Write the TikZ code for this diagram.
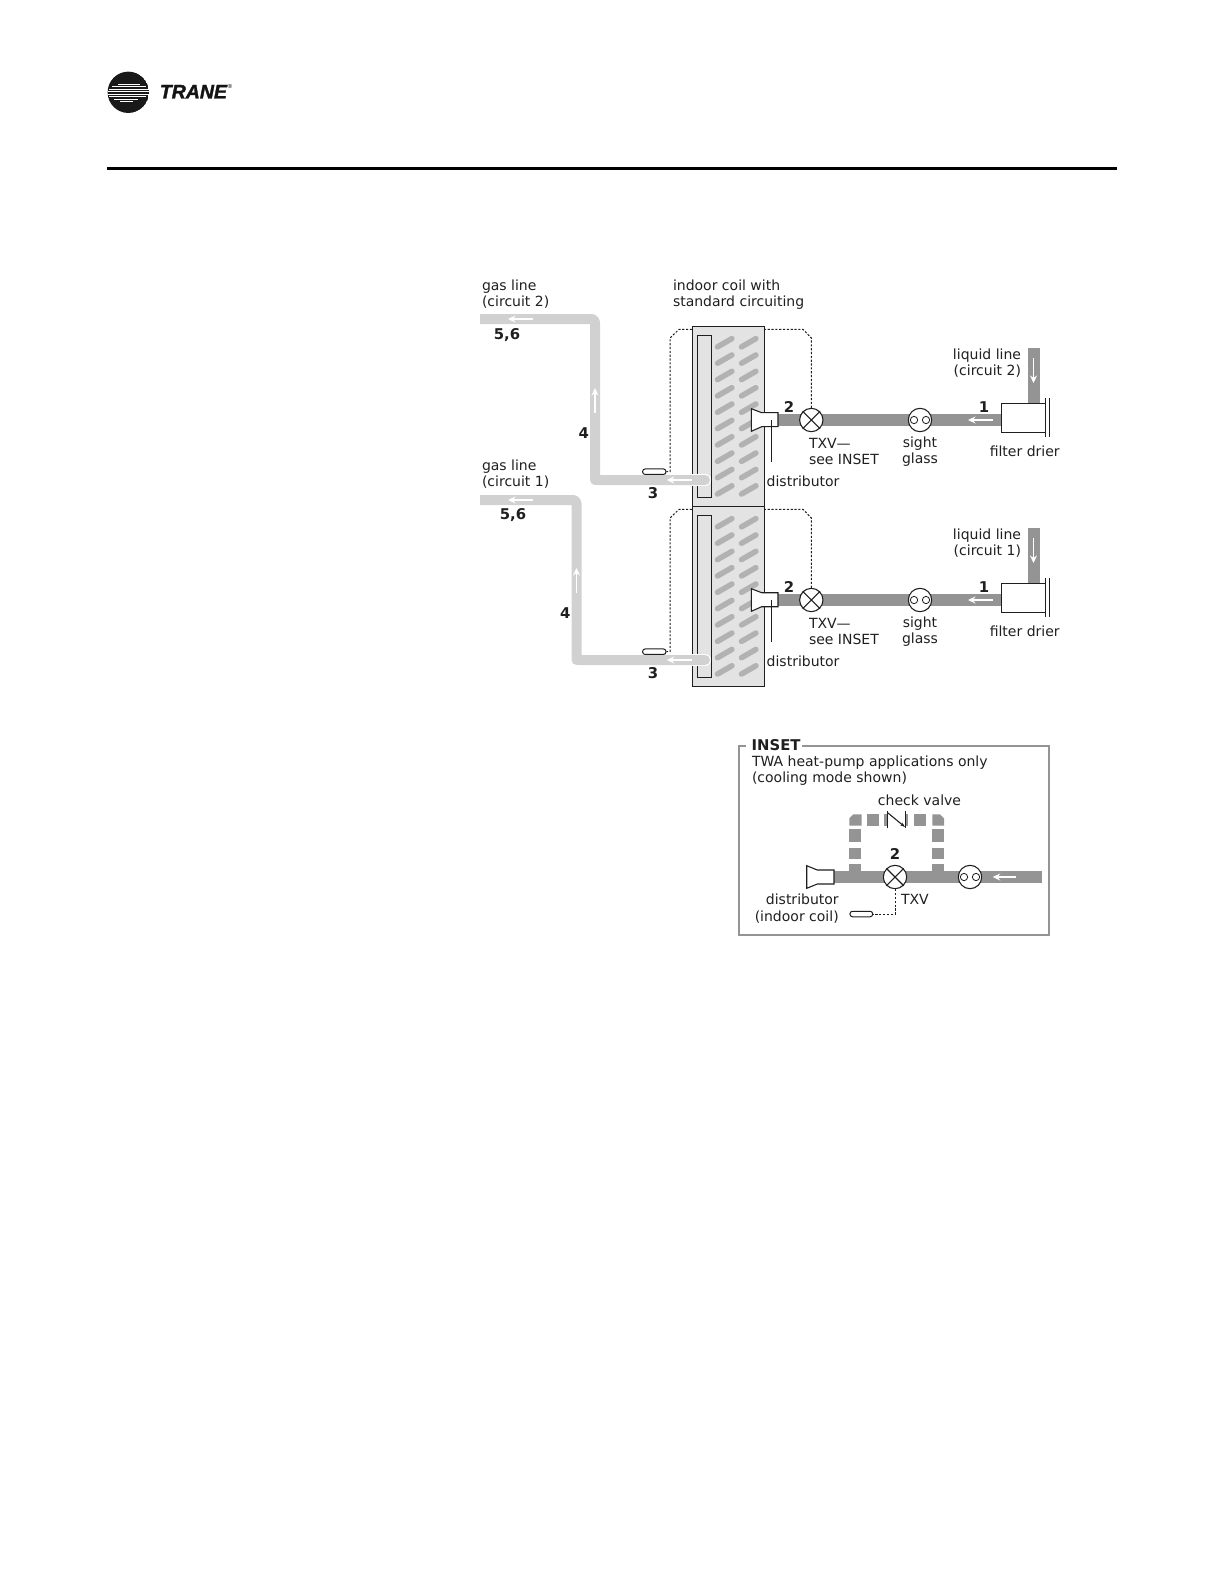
\documentclass[tikz,border=0pt]{standalone}
\usepackage{fontspec}
\setmainfont{DejaVu Sans}
\newfontfamily\logofont[BoldItalicFeatures={FakeBold=1.6}]{Liberation Sans}
\usetikzlibrary{arrows.meta}
\definecolor{gasc}{gray}{0.82}
\definecolor{liqc}{gray}{0.58}
\definecolor{coilc}{gray}{0.89}
\definecolor{slashc}{gray}{0.70}
\definecolor{inkc}{gray}{0.12}
\tikzset{
  lbl/.style={inner sep=0pt,outer sep=0pt,text=inkc,font=\fontsize{8.4}{9.8}\selectfont},
  num/.style={inner sep=0pt,outer sep=0pt,text=inkc,font=\fontsize{8.9}{9.8}\selectfont\bfseries},
  gasline/.style={draw=gasc,line width=6pt,line join=round},
  liqline/.style={draw=liqc,line width=7.2pt},
  flow/.style={draw=white,line width=0.9pt,-{Stealth[length=4.5pt,width=4.2pt]}},
  thin ink/.style={draw=inkc,line width=0.65pt},
  sensor/.style={draw=inkc,line width=0.6pt,dash pattern=on 1.3pt off 1pt},
  bulb/.style={draw=inkc,fill=white,line width=0.6pt,rounded corners=1.5pt},
  valve/.style={circle,draw=inkc,fill=white,line width=0.65pt,minimum size=14pt,inner sep=0pt},
  eye/.style={circle,draw=inkc,fill=white,line width=0.5pt,minimum size=4.4pt,inner sep=0pt},
  slash/.style={draw=slashc,line width=3.3pt,line cap=round},
  bypass/.style={fill=liqc,draw=none}
}
% circuit: y offset, circuit number, gas y nudge, gas riser x, x of the "5,6" label
\newcommand{\coilcircuit}[5]{%
\begin{scope}[shift={(0,#1)}]
  % coil
  \node[draw=inkc,fill=coilc,line width=0.65pt,inner sep=0pt,minimum width=43.4pt,minimum height=107.6pt] (coil#2) at (728.5,416.4) {};
  \foreach \n in {0,...,9} {
    \draw[slash] (717.5,346.9+16.35*\n) -- (731.9,338.6+16.35*\n);
    \draw[slash] (741.5,346.9+16.35*\n) -- (755.9,338.6+16.35*\n);
  }
  \node[draw=inkc,fill=coilc,line width=0.65pt,inner sep=0pt,minimum width=8.4pt,minimum height=97.6pt] (header#2) at (704.3,416.4) {};
  % gas line
  \coordinate (gasA#2) at (480,319+#3);
  \coordinate (gasB#2) at (#4,319+#3);
  \coordinate (gasC#2) at (#4,480);
  \coordinate (gasD#2) at (705,480);
  \draw[draw=white,line width=7.2pt,line cap=round] (gasC#2) -- (gasD#2);
  \draw[gasline,line cap=round] (gasC#2) -- (gasD#2);
  \draw[gasline,rounded corners=2pt] (gasA#2) -- (gasB#2) -- (gasC#2) -- (gasD#2);
  \draw[flow] (532.7,319+#3) -- (508,319+#3);
  \draw[flow] (#4,412.7) -- (#4,388);
  \draw[flow] (691.7,480) -- (666.7,480);
  % liquid line
  \coordinate (liqA#2) at (778,420);
  \coordinate (liqB#2) at (1002,420);
  \coordinate (liqC#2) at (1034,348);
  \coordinate (liqD#2) at (1034,404);
  \draw[liqline] (liqA#2) -- (liqB#2);
  \draw[liqline] (liqC#2) -- (liqD#2);
  \draw[flow] (992.7,420) -- (968,420);
  \draw[flow] (1033.5,358) -- (1033.5,383);
  % distributor
  \draw[thin ink,fill=white] (751.3,408.7) -- (761.7,412.7) -- (778,412.7) -- (778,426.7) -- (761.7,426.7) -- (751.3,431.3) -- cycle;
  \coordinate (distTop#2) at (771.3,420);
  \coordinate (distEnd#2) at (771.3,461.7);
  \draw[thin ink] (distTop#2) -- (distEnd#2);
  % TXV
  \node[valve] (txv#2) at (811.3,420) {};
  \draw[thin ink] (txv#2.north west) -- (txv#2.south east) (txv#2.north east) -- (txv#2.south west);
  % sight glass
  \node[valve] (sight#2) at (920,420) {};
  \node[eye] (eyeL#2) at (914,420) {};
  \node[eye] (eyeR#2) at (926,420) {};
  % filter drier
  \node[draw=inkc,fill=white,line width=0.65pt,inner sep=0pt,minimum width=26.4pt,minimum height=17.4pt] (drier#2) at (1023.3,417.8) {};
  \coordinate (capA#2) at (1045.3,398);
  \coordinate (capB#2) at (1045.3,436.7);
  \coordinate (capC#2) at (1049.7,398);
  \coordinate (capD#2) at (1049.7,436.7);
  \draw[thin ink] (capA#2) -- (capB#2) (capC#2) -- (capD#2);
  % sensing bulb and capillary
  \node[bulb,inner sep=0pt,minimum width=14pt,minimum height=3.3pt] (bulb#2) at (654.3,471.7) {};
  \draw[sensor] (txv#2.north) -- (811.3,338) -- (803,329.3) -- (765,329.3);
  \draw[sensor] (692,329.3) -- (679,329.3) -- (670,338) -- (670,471.7) -- (bulb#2.east);
  % labels
  \node[lbl,anchor=west,align=left] (gasT#2) at (482,294.2) {gas line\\(circuit #2)};
  \node[num] (n56#2) at (#5,335) {5,6};
  \node[num] (n4#2) at (#4-11.3,433) {4};
  \node[num] (n3#2) at (653,492.7) {3};
  \node[num] (n2#2) at (789,406.7) {2};
  \node[num] (n1#2) at (984,407) {1};
  \node[lbl,anchor=west,align=left] (txvT#2) at (809,451.5) {TXV—\\see INSET};
  \node[lbl,align=center] (sightT#2) at (920,451.5) {sight\\glass};
  \node[lbl] (drierT#2) at (1024.7,451.7) {filter drier};
  \node[lbl,anchor=west] (distT#2) at (766.7,481) {distributor};
  \node[lbl,anchor=east,align=right] (liqT#2) at (1021,363) {liquid line\\(circuit #2)};
\end{scope}}
\begin{document}
\begin{tikzpicture}[x=0.6pt,y=-0.6pt]
\useasboundingbox (0,0) rectangle (1224,1584);
% header
\begin{scope}
  \clip (128.3,92.3) circle (20.7);
  \node[circle,fill=black!90,inner sep=0pt,minimum size=24.8pt] (logoDisc) at (128.3,92.3) {};
  \foreach \yy/\xa/\xb in {84/118/140,86.5/112/146,89/109/150,91.5/108/150,94/108/150,96.5/109/146,99/114/138,101.5/120/133}
    \draw[white,line width=0.55pt] (\xa,\yy) -- (\xb,\yy);
\end{scope}
\node[inner sep=0pt,anchor=west,text=black!92,font=\logofont\fontsize{11.7}{13}\selectfont\bfseries\itshape] (logoText) at (159.5,91.7) {TRANE};
\node[inner sep=0pt,text=black,font=\logofont\fontsize{3.5}{4}\selectfont] (logoMark) at (230,86) {®};
\coordinate (ruleA) at (107,168);
\coordinate (ruleB) at (1117,168);
\draw[black,line width=1.8pt] (ruleA) -- (ruleB);
% title
\node[lbl,anchor=west,align=left] (coilT) at (673,294.5) {indoor coil with\\standard circuiting};
% the two circuits
\coilcircuit{180}{1}{1}{576.5}{513}
\coilcircuit{0}{2}{0}{595}{507}
% inset
\coordinate (bxA) at (746,746);
\coordinate (bxB) at (739,746);
\coordinate (bxC) at (739,935);
\coordinate (bxD) at (1049.3,935);
\coordinate (bxE) at (1049.3,746);
\coordinate (bxF) at (801.7,746);
\draw[draw=liqc,line width=1.1pt] (bxA) -- (bxB) -- (bxC) -- (bxD) -- (bxE) -- (bxF);
\node[num,anchor=west] (insT) at (751.7,745) {INSET};
\node[lbl,anchor=west,align=left] (insD) at (752,770.5) {TWA heat-pump applications only\\(cooling mode shown)};
\node[lbl] (chkT) at (919.5,800.7) {check valve};
% bypass pieces
\fill[bypass] (849.3,825.7) -- (849.3,818.3) -- (853.3,814.3) -- (861.7,814.3) -- (861.7,825.7) -- cycle;
\fill[bypass] (867.3,814.3) rectangle (879,825.7);
\fill[bypass] (884,814.3) rectangle (887.7,825.7);
\fill[bypass] (905.7,814.3) rectangle (907.7,825.7);
\fill[bypass] (914,814.3) rectangle (925.7,825.7);
\fill[bypass] (944,825.7) -- (944,818.3) -- (940,814.3) -- (932.3,814.3) -- (932.3,825.7) -- cycle;
\fill[bypass] (849.3,829.3) rectangle (861,841.7);
\fill[bypass] (849.3,847.7) rectangle (861,859);
\fill[bypass] (849.3,864) rectangle (861,872);
\fill[bypass] (932.3,829.3) rectangle (944,841.7);
\fill[bypass] (932.3,847.7) rectangle (944,859);
\fill[bypass] (932.3,864) rectangle (944,872);
\coordinate (chkA) at (887.7,811);
\coordinate (chkB) at (887.7,827.7);
\coordinate (chkC) at (905.7,811);
\coordinate (chkD) at (905.7,827.7);
\coordinate (chkE) at (888,813);
\coordinate (chkF) at (905,827);
\draw[thin ink] (chkA) -- (chkB) (chkC) -- (chkD);
\draw[thin ink,-{Stealth[length=3pt,width=2pt]}] (chkE) -- (chkF);
% inset pipe
\coordinate (ipA) at (834,877);
\coordinate (ipB) at (1042,877);
\draw[liqline] (ipA) -- (ipB);
\draw[flow] (1016,877) -- (992.7,877);
\draw[thin ink,fill=white] (806.7,865.7) -- (817.3,870) -- (834,870) -- (834,884) -- (817.3,884) -- (806.7,888.3) -- cycle;
\node[valve] (itxv) at (895,877) {};
\draw[thin ink] (itxv.north west) -- (itxv.south east) (itxv.north east) -- (itxv.south west);
\node[valve] (isight) at (970,877) {};
\node[eye] (ieyeL) at (964,877) {};
\node[eye] (ieyeR) at (976,877) {};
\node[num] (in2) at (895,854) {2};
\node[lbl,anchor=west] (itxvT) at (901,899.3) {TXV};
\node[lbl,anchor=east,align=right] (idistT) at (838.7,908.5) {distributor\\(indoor coil)};
\node[bulb,inner sep=0pt,minimum width=13.6pt,minimum height=3.3pt] (ibulb) at (861.3,914) {};
\draw[sensor] (itxv.south) -- (895,914) -- (ibulb.east);
\end{tikzpicture}
\end{document}
